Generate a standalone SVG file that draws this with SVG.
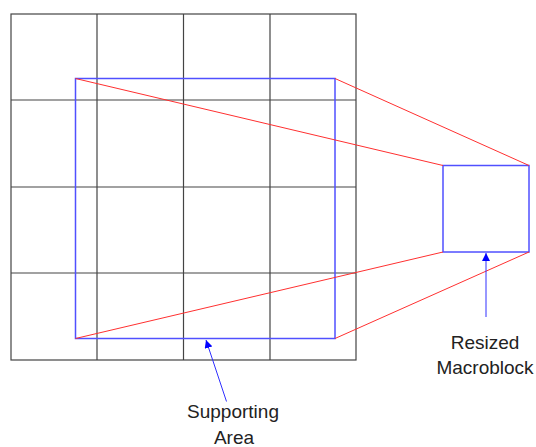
<svg xmlns="http://www.w3.org/2000/svg" width="536" height="447" viewBox="0 0 536 447">
<style>
.grid{fill:none;stroke:#444;stroke-width:1.2}
.blue{fill:none;stroke:#5050ff;stroke-width:1.5}
.red{fill:none;stroke:#ff3030;stroke-width:1}
.arr{fill:none;stroke:#3030ff;stroke-width:1}
text{font-family:"Liberation Sans",Arial,sans-serif;font-size:19px;fill:#222;text-anchor:middle}
</style>
<defs>
<marker id="ah" viewBox="0 0 10 10" refX="10" refY="5" markerWidth="8" markerHeight="8" markerUnits="userSpaceOnUse" orient="auto">
<path d="M0,0 L10,5 L0,10 z" fill="#0000ff"/>
</marker>
</defs>
<g id="grid">
<rect class="grid" x="11" y="14" width="345" height="346"/>
<line class="grid" x1="97" y1="14" x2="97" y2="360"/>
<line class="grid" x1="183.5" y1="14" x2="183.5" y2="360"/>
<line class="grid" x1="270" y1="14" x2="270" y2="360"/>
<line class="grid" x1="11" y1="100" x2="356" y2="100"/>
<line class="grid" x1="11" y1="187" x2="356" y2="187"/>
<line class="grid" x1="11" y1="273" x2="356" y2="273"/>
</g>
<g id="supporting-area">
<rect class="blue" x="75.5" y="78.5" width="259.5" height="260"/>
</g>
<g id="resized-macroblock">
<rect class="blue" x="443" y="165.5" width="86" height="86.5"/>
</g>
<g id="connectors">
<line class="red" x1="75.5" y1="78.5" x2="443" y2="165.5"/>
<line class="red" x1="335" y1="78.5" x2="529" y2="165.5"/>
<line class="red" x1="75.5" y1="338.5" x2="443" y2="252"/>
<line class="red" x1="335" y1="338.5" x2="529" y2="252"/>
<line class="arr" x1="486" y1="317" x2="486" y2="253" marker-end="url(#ah)"/>
<line class="arr" x1="226.5" y1="401.5" x2="206" y2="340" marker-end="url(#ah)"/>
</g>
<g id="labels">
<text x="485" y="348.5">Resized</text>
<text x="485" y="374">Macroblock</text>
<text x="233" y="417.5">Supporting</text>
<text x="234" y="443.5">Area</text>
</g>
</svg>
